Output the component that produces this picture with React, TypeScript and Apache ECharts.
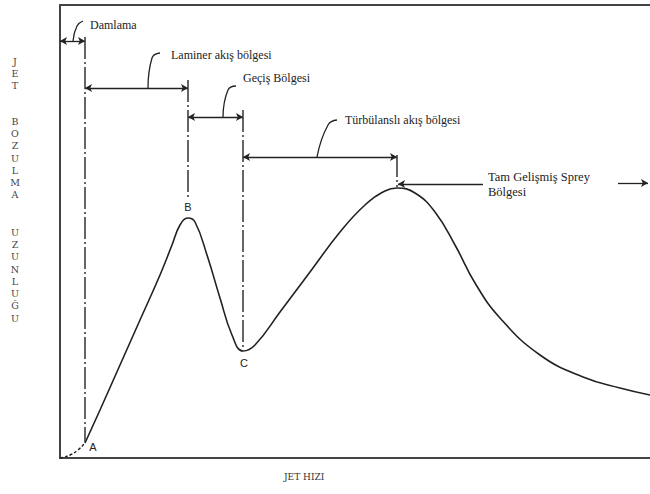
import React, { useEffect, useRef } from "react";
import * as echarts from "echarts";

// Curve (x: jet speed, y: breakup length; arbitrary units)
const dripX = [0, 4, 10, 18, 25];
const dripY = [0, 1, 3, 8, 15];
const jetX = [25, 40, 60, 80, 100, 112, 120, 128, 135, 147, 160, 172, 183, 195, 220, 250, 280, 305, 325, 337, 355, 375, 395, 415, 440, 480, 523, 560, 590];
const jetY = [15, 48, 93, 138, 183, 213, 233, 240, 236, 203, 160, 123, 107, 113, 146, 186, 226, 253, 267, 270, 265, 246, 213, 175, 140, 103, 81, 70, 63];

// Regime boundaries (x) and annotation levels (y)
const boundaryNames = ["A", "B", "C", "D"];
const boundaryX = [25, 128, 183, 337];
const pointLabelNames = ["A", "B", "C"];
const pointLabelX = [33, 128, 184];
const pointLabelY = [11, 251, 95];

const regionNames = ["Damlama", "Laminer akış bölgesi", "Geçiş Bölgesi", "Türbülanslı akış bölgesi"];
const regionStartX = [0, 25, 128, 183];
const regionEndX = [25, 128, 183, 337];
const regionLevelY = [417, 370, 341, 301];
const textX = [30, 111, 183, 285];
const textY = [433, 403, 380, 338];
// leader lines: bottom, top, hook
const leaderX = [[13, 17, 23], [88, 92, 100], [163, 168, 176], [257, 268, 277]];
const leaderY = [[417, 432, 437], [370, 400, 405], [341, 368, 372], [301, 333, 338]];

// vertical boundary line extents
const vTopY = [421, 378, 348, 303];
const vBottomY = [16, 258, 108, 271];

const sprayName = "Tam Gelişmiş Sprey\nBölgesi";
const sprayTextX = 428;
const sprayTextY = 274;
const sprayArrowX = [423, 338];
const sprayArrowY = 274;
const rightArrowX = [558, 588];
const rightArrowY = 275;

const yTitleParts = ["J\nE\nT", "B\nO\nZ\nU\nL\nM\nA", "U\nZ\nU\nN\nL\nU\nĞ\nU"];
const xTitle = "JET HIZI";

export default function App() {
  const ref = useRef<HTMLDivElement>(null);
  useEffect(() => {
    document.body.style.margin = "0";
    if (!ref.current) return;
    const chart = echarts.init(ref.current, undefined, { renderer: "svg" });
    const ink = "#222";
    const serif = "'Liberation Serif', serif";
    const slab = "'DejaVu Serif', serif";

    const pairs = (xs: number[], ys: number[]) => xs.map((x, i) => [x, ys[i]]);

    const markLines: any[] = [];
    regionNames.forEach((_, i) => {
      markLines.push([
        { coord: [regionStartX[i], regionLevelY[i]], symbol: "arrow" },
        { coord: [regionEndX[i], regionLevelY[i]], symbol: "arrow" },
      ]);
    });
    markLines.push([
      { coord: [sprayArrowX[0], sprayArrowY], symbol: "none" },
      { coord: [sprayArrowX[1], sprayArrowY], symbol: "arrow" },
    ]);
    markLines.push([
      { coord: [rightArrowX[0], rightArrowY], symbol: "none" },
      { coord: [rightArrowX[1], rightArrowY], symbol: "arrow" },
    ]);
    const vLines = boundaryNames.map((_, i) => [
      { coord: [boundaryX[i], vTopY[i]], symbol: "none" },
      { coord: [boundaryX[i], vBottomY[i]], symbol: "none" },
    ]);

    const series: any[] = [
      {
        type: "line",
        data: pairs(dripX, dripY),
        smooth: 0.5,
        showSymbol: false,
        lineStyle: { color: ink, width: 1.4, type: [3, 2] },
        silent: true,
      },
      {
        type: "line",
        data: pairs(jetX, jetY),
        smooth: 0.45,
        showSymbol: false,
        lineStyle: { color: ink, width: 1.6 },
        silent: true,
        markLine: {
          silent: true,
          animation: false,
          symbolSize: [6, 7],
          label: { show: false },
          lineStyle: { color: ink, width: 1.3, type: "solid" },
          data: markLines,
        },
      },
      {
        type: "line",
        data: [],
        silent: true,
        markLine: {
          silent: true,
          animation: false,
          symbol: "none",
          label: { show: false },
          lineStyle: { color: "#333", width: 1.5, type: [22, 3, 2, 3] },
          data: vLines,
        },
      },
    ];
    leaderX.forEach((xs, i) => {
      series.push({
        type: "line",
        data: pairs(xs, leaderY[i]),
        smooth: 0.5,
        showSymbol: false,
        silent: true,
        lineStyle: { color: ink, width: 1.3 },
      });
    });

    const axisBase = {
      type: "value",
      axisTick: { show: false },
      axisLabel: { show: false },
      splitLine: { show: false },
      axisLine: { show: true, lineStyle: { color: "#444", width: 2 } },
    };

    chart.setOption({
      animation: false,
      backgroundColor: "#fff",
      grid: { left: 60, right: 0, top: 5, bottom: 36 },
      xAxis: [
        { ...axisBase, min: 0, max: 590, position: "bottom" },
        { ...axisBase, min: 0, max: 590, position: "top" },
      ],
      yAxis: { ...axisBase, min: 0, max: 453, position: "left" },
      series,
    });

    const px = (x: number, y: number) =>
      chart.convertToPixel({ gridIndex: 0 }, [x, y]) as number[];

    const graphics: any[] = [];
    regionNames.forEach((n, i) => {
      const p = px(textX[i], textY[i]);
      graphics.push({
        type: "text",
        x: p[0],
        y: p[1],
        style: {
          text: n,
          fill: ink,
          fontFamily: serif,
          fontSize: 12,
          align: "left",
          verticalAlign: "middle",
        },
      });
    });
    const sp = px(sprayTextX, sprayTextY);
    graphics.push({
      type: "text",
      x: sp[0],
      y: sp[1],
      style: {
        text: sprayName,
        fill: ink,
        fontFamily: serif,
        fontSize: 12.5,
        lineHeight: 15,
        align: "left",
        verticalAlign: "middle",
      },
    });
    pointLabelNames.forEach((n, i) => {
      const p = px(pointLabelX[i], pointLabelY[i]);
      graphics.push({
        type: "text",
        x: p[0],
        y: p[1],
        style: {
          text: n,
          fill: ink,
          fontFamily: "'Liberation Sans', sans-serif",
          fontSize: 11,
          align: "center",
          verticalAlign: "middle",
        },
      });
    });
    yTitleParts.forEach((t, i) => {
      graphics.push({
        type: "text",
        x: 15,
        y: [55, 115, 226][i],
        style: {
          text: t,
          fill: "#444",
          fontFamily: slab,
          fontSize: 9.5,
          lineHeight: 12.3,
          align: "center",
        },
      });
    });
    graphics.push({
      type: "text",
      x: 284,
      y: 472,
      style: { text: xTitle, fill: "#333", fontFamily: slab, fontSize: 9 },
    });

    chart.setOption({ graphic: graphics });
    return () => chart.dispose();
  }, []);
  return <div ref={ref} style={{ width: 650, height: 494 }} />;
}
